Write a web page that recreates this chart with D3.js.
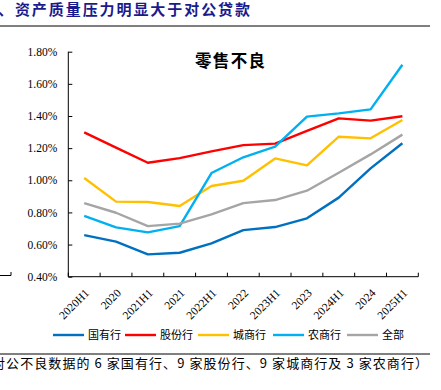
<!DOCTYPE html>
<html><head><meta charset="utf-8">
<script src="https://cdn.jsdelivr.net/npm/d3@7"></script>
<style>body{margin:0;background:#fff;} svg{display:block;}</style>
</head><body>
<script>
const categories = ["2020H1","2020","2021H1","2021","2022H1","2022","2023H1","2023","2024H1","2024","2025H1"];
const seriesNames = ["国有行","股份行","城商行","农商行","全部"];
const stateOwned = [0.659,0.618,0.539,0.549,0.607,0.690,0.709,0.763,0.892,1.074,1.230];
const jointStock = [1.298,1.203,1.109,1.138,1.180,1.219,1.228,1.308,1.385,1.371,1.398];
const cityBanks  = [1.014,0.867,0.865,0.840,0.964,0.997,1.136,1.093,1.271,1.261,1.375];
const ruralBanks = [0.778,0.707,0.676,0.715,1.045,1.143,1.209,1.396,1.416,1.441,1.719];
const allBanks   = [0.858,0.798,0.715,0.730,0.788,0.858,0.877,0.935,1.047,1.161,1.284];
const yTicks = [0.4,0.6,0.8,1.0,1.2,1.4,1.6,1.8];
const colors = ["#0070C0","#FF0000","#FFC000","#00B0F0","#A5A5A5"];
const seriesData = [stateOwned, jointStock, cityBanks, ruralBanks, allBanks];

const W=441,H=390;
const svg=d3.select("body").append("svg").attr("width",W).attr("height",H);

// header
svg.append("text").attr("x",-2).attr("y",15).attr("font-family","Noto Sans CJK SC").attr("font-weight","bold")
  .attr("font-size",15).attr("fill","#1a1a8c").attr("textLength",252).attr("lengthAdjust","spacing")
  .text("、资产质量压力明显大于对公贷款");
svg.append("line").attr("x1",0).attr("x2",430).attr("y1",26).attr("y2",26).attr("stroke","#000").attr("stroke-width",1);
svg.append("line").attr("x1",0).attr("x2",430).attr("y1",354).attr("y2",354).attr("stroke","#000").attr("stroke-width",1);
svg.append("text").attr("x",-8).attr("y",368).attr("font-family","Noto Sans CJK SC").attr("font-size",13)
  .attr("fill","#000").attr("textLength",436).attr("lengthAdjust","spacing")
  .text("对公不良数据的 6 家国有行、9 家股份行、9 家城商行及 3 家农商行）");
// remnant of neighbouring chart
svg.append("path").attr("d","M0,275.5H11V272").attr("fill","none").attr("stroke","#000").attr("stroke-width",1);

const x=d3.scaleBand().domain(categories).range([68.3,418.3]);
const y=d3.scaleLinear().domain([0.4,1.8]).range([276.7,51.7]);

const g=svg.append("g");
const yAxis=g.append("g").attr("transform","translate(68.3,0)")
  .call(d3.axisLeft(y).tickValues(yTicks).tickSize(-4).tickPadding(11).tickFormat(d=>d.toFixed(2)+"%"));
yAxis.selectAll("text").attr("font-family","Liberation Serif").attr("font-size",11.5).attr("fill","#000");
yAxis.select(".domain").attr("d","M-0,51.7V276.7");

const xAxis=g.append("g").attr("transform","translate(0,276.7)")
  .call(d3.axisBottom(x).tickSize(0).tickFormat(""));
xAxis.select(".domain").attr("d","M68.3,0H418.3");
const bounds=[...categories.map(c=>x(c)), x.range()[1]];
g.selectAll(".xt").data(bounds).join("line").attr("x1",d=>d).attr("x2",d=>d)
  .attr("y1",276.7).attr("y2",272.7).attr("stroke","#000");
g.selectAll(".xl").data(categories).join("text")
  .attr("transform",d=>`translate(${x(d)+x.bandwidth()/2},${288}) rotate(-45)`)
  .attr("text-anchor","end").attr("dy","0.7em")
  .attr("font-family","Liberation Serif").attr("font-size",11.5).attr("fill","#000").text(d=>d);

const line=d3.line().x((d,i)=>x(categories[i])+x.bandwidth()/2).y(d=>y(d));
seriesData.forEach((s,k)=>{
  g.append("path").datum(s).attr("d",line).attr("fill","none").attr("stroke",colors[k])
   .attr("stroke-width",2.4).attr("stroke-linejoin","round");
});

svg.append("text").attr("x",195).attr("y",67).attr("font-family","Noto Sans CJK SC")
  .attr("font-weight","bold").attr("font-size",16.5).attr("fill","#000")
  .attr("textLength",70).attr("lengthAdjust","spacing").text("零售不良");

// legend
const legX=[53,125,198,273,347];
seriesNames.forEach((n,k)=>{
  svg.append("line").attr("x1",legX[k]).attr("x2",legX[k]+31).attr("y1",335).attr("y2",335)
    .attr("stroke",colors[k]).attr("stroke-width",2.4);
  svg.append("text").attr("x",legX[k]+35).attr("y",339).attr("font-family","Noto Sans CJK SC")
    .attr("font-size",11).attr("fill","#000").text(n);
});
</script>
</body></html>
